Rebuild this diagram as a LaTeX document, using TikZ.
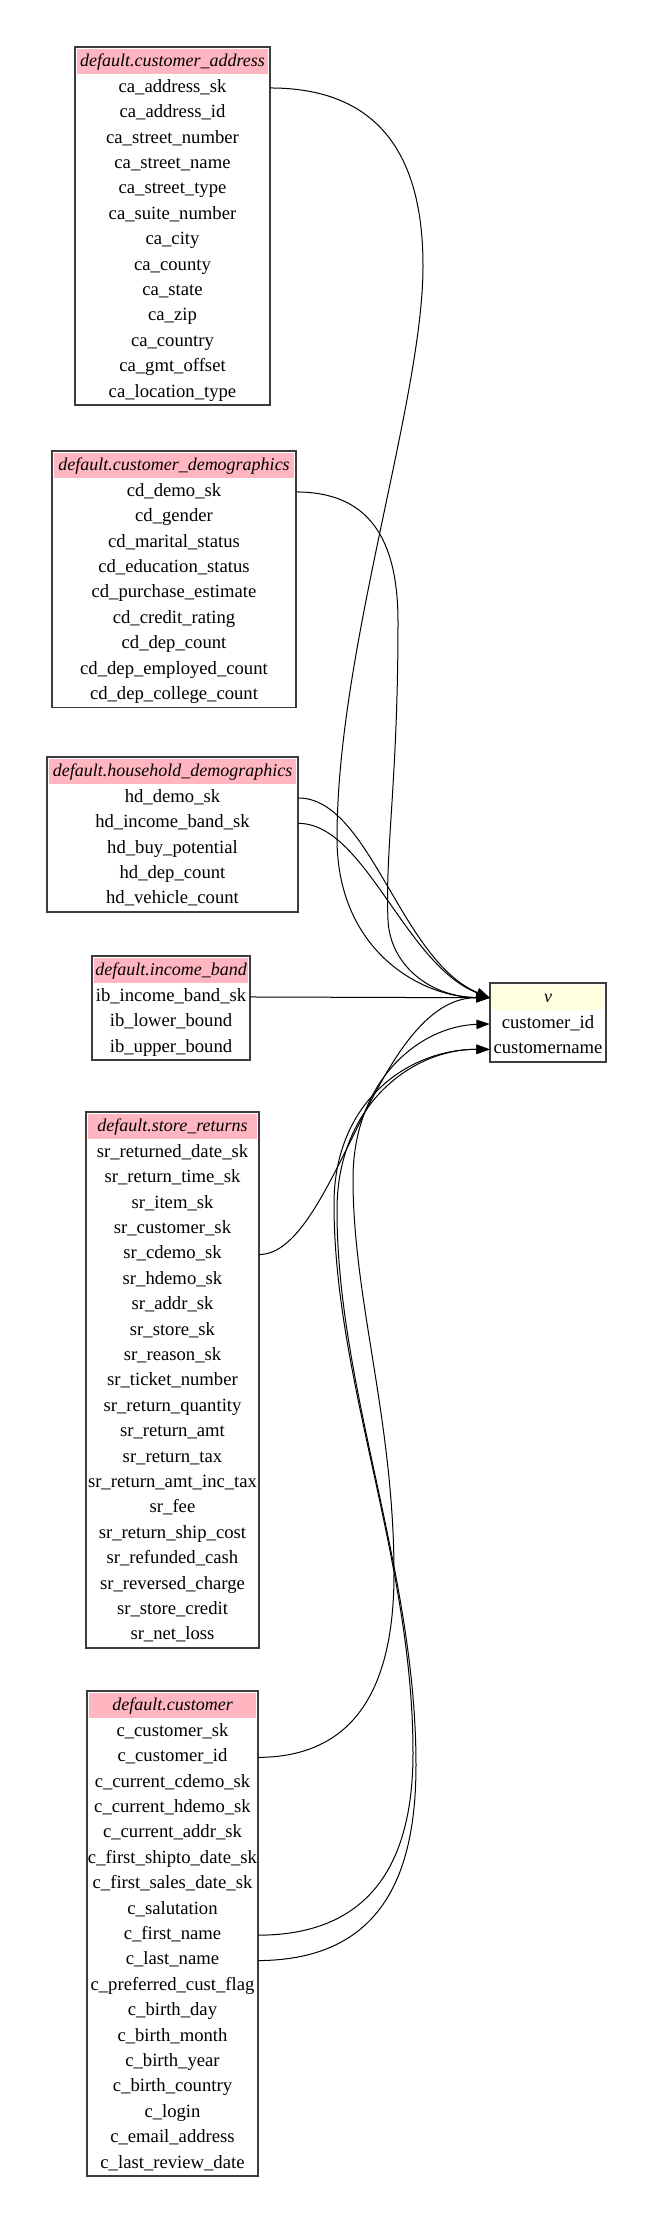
\documentclass[tikz,border=0pt]{standalone}
\usepackage{fontspec}
\setmainfont{Liberation Serif}
\usepackage{tikz}
\usetikzlibrary{arrows.meta}
\definecolor{headpink}{HTML}{FFB6C1}
\definecolor{headyellow}{HTML}{FFFFE0}
\definecolor{framegray}{HTML}{3C3C3C}

\tikzset{
	headcell/.style={font=\fontsize{13.5}{16}\selectfont\itshape, anchor=north, inner sep=0pt,
		minimum height=18.75pt, text height=9.5pt, text depth=3pt, fill=headpink},
	bodycell/.style={font=\fontsize{14}{16}\selectfont, anchor=north, inner sep=0pt,
		minimum height=19.05pt, text height=9.5pt, text depth=3pt},
	tableframe/.style={draw=framegray, line width=1.1pt},
	link/.style={draw=black, line width=0.75pt, -{Triangle[length=10pt, width=7pt]}},
}

\begin{document}
\begin{tikzpicture}[x=0.75pt, y=-0.75pt]
	\useasboundingbox (0, 0) rectangle (653, 2227);
	% customer_address
	\begin{scope}[shift={(75, 47)}]
		\pgfmathsetmacro\w{195}
		\pgfmathsetmacro\n{13}
		\node[headcell, minimum width=(\w - 4) * 0.75pt] (ca) at (\w / 2, 2) {default.customer\_address};
		\foreach \f [count=\i] in {ca\_address\_sk, ca\_address\_id, ca\_street\_number, ca\_street\_name,
			ca\_street\_type, ca\_suite\_number, ca\_city, ca\_county, ca\_state, ca\_zip, ca\_country,
			ca\_gmt\_offset, ca\_location\_type}{
			\node[bodycell, minimum width=\w * 0.75pt] (ca\i) at (\w / 2, 28 + 25.4 * \i - 25.4) {\f};
		}
		\draw[tableframe] (0, 0) rectangle (\w, 28 + 25.4 * \n);
	\end{scope}
	% customer_demographics
	\begin{scope}[shift={(52, 451)}]
		\pgfmathsetmacro\w{244}
		\pgfmathsetmacro\n{9}
		\node[headcell, minimum width=(\w - 4) * 0.75pt] (cd) at (\w / 2, 2) {default.customer\_demographics};
		\foreach \f [count=\i] in {cd\_demo\_sk, cd\_gender, cd\_marital\_status, cd\_education\_status,
			cd\_purchase\_estimate, cd\_credit\_rating, cd\_dep\_count, cd\_dep\_employed\_count,
			cd\_dep\_college\_count}{
			\node[bodycell, minimum width=\w * 0.75pt] (cd\i) at (\w / 2, 28 + 25.4 * \i - 25.4) {\f};
		}
		\draw[tableframe] (0, 0) rectangle (\w, 28 + 25.4 * \n);
	\end{scope}
	% household_demographics
	\begin{scope}[shift={(47, 757)}]
		\pgfmathsetmacro\w{251}
		\pgfmathsetmacro\n{5}
		\node[headcell, minimum width=(\w - 4) * 0.75pt] (hd) at (\w / 2, 2) {default.household\_demographics};
		\foreach \f [count=\i] in {hd\_demo\_sk, hd\_income\_band\_sk, hd\_buy\_potential, hd\_dep\_count,
			hd\_vehicle\_count}{
			\node[bodycell, minimum width=\w * 0.75pt] (hd\i) at (\w / 2, 28 + 25.4 * \i - 25.4) {\f};
		}
		\draw[tableframe] (0, 0) rectangle (\w, 28 + 25.4 * \n);
	\end{scope}
	% income_band
	\begin{scope}[shift={(92, 956)}]
		\pgfmathsetmacro\w{158}
		\pgfmathsetmacro\n{3}
		\node[headcell, minimum width=(\w - 4) * 0.75pt] (ib) at (\w / 2, 2) {default.income\_band};
		\foreach \f [count=\i] in {ib\_income\_band\_sk, ib\_lower\_bound, ib\_upper\_bound}{
			\node[bodycell, minimum width=\w * 0.75pt] (ib\i) at (\w / 2, 28 + 25.4 * \i - 25.4) {\f};
		}
		\draw[tableframe] (0, 0) rectangle (\w, 28 + 25.4 * \n);
	\end{scope}
	% store_returns
	\begin{scope}[shift={(86, 1112)}]
		\pgfmathsetmacro\w{173}
		\pgfmathsetmacro\n{20}
		\node[headcell, minimum width=(\w - 4) * 0.75pt] (sr) at (\w / 2, 2) {default.store\_returns};
		\foreach \f [count=\i] in {sr\_returned\_date\_sk, sr\_return\_time\_sk, sr\_item\_sk,
			sr\_customer\_sk, sr\_cdemo\_sk, sr\_hdemo\_sk, sr\_addr\_sk, sr\_store\_sk, sr\_reason\_sk,
			sr\_ticket\_number, sr\_return\_quantity, sr\_return\_amt, sr\_return\_tax,
			sr\_return\_amt\_inc\_tax, sr\_fee, sr\_return\_ship\_cost, sr\_refunded\_cash,
			sr\_reversed\_charge, sr\_store\_credit, sr\_net\_loss}{
			\node[bodycell, minimum width=\w * 0.75pt] (sr\i) at (\w / 2, 28 + 25.4 * \i - 25.4) {\f};
		}
		\draw[tableframe] (0, 0) rectangle (\w, 28 + 25.4 * \n);
	\end{scope}
	% customer
	\begin{scope}[shift={(87, 1691)}]
		\pgfmathsetmacro\w{171}
		\pgfmathsetmacro\n{18}
		\node[headcell, minimum width=(\w - 4) * 0.75pt] (cu) at (\w / 2, 2) {default.customer};
		\foreach \f [count=\i] in {c\_customer\_sk, c\_customer\_id, c\_current\_cdemo\_sk,
			c\_current\_hdemo\_sk, c\_current\_addr\_sk, c\_first\_shipto\_date\_sk,
			c\_first\_sales\_date\_sk, c\_salutation, c\_first\_name, c\_last\_name,
			c\_preferred\_cust\_flag, c\_birth\_day, c\_birth\_month, c\_birth\_year,
			c\_birth\_country, c\_login, c\_email\_address, c\_last\_review\_date}{
			\node[bodycell, minimum width=\w * 0.75pt] (cu\i) at (\w / 2, 28 + 25.4 * \i - 25.4) {\f};
		}
		\draw[tableframe] (0, 0) rectangle (\w, 28 + 25.4 * \n);
	\end{scope}
	% view v
	\begin{scope}[shift={(490, 983)}]
		\pgfmathsetmacro\w{116}
		\pgfmathsetmacro\n{2}
		\node[headcell, fill=headyellow, minimum width=(\w - 4) * 0.75pt] (v) at (\w / 2, 2) {v};
		\foreach \f [count=\i] in {customer\_id, customername}{
			\node[bodycell, minimum width=\w * 0.75pt] (v\i) at (\w / 2, 28 + 25.4 * \i - 25.4) {\f};
		}
		\draw[tableframe] (0, 0) rectangle (\w, 28 + 25.4 * \n);
	\end{scope}
	% links into the header of v
	\draw[link] (ca1.east) .. controls (390, 88) and (423, 170) .. (423, 266)
		.. controls (423, 400) and (337, 650) .. (337, 838)
		.. controls (337, 950) and (420, 997) .. (v1.west |- v.west);
	\draw[link] (cd1.east) .. controls (370, 492) and (398, 540) .. (398, 622)
		.. controls (398, 780) and (385, 850) .. (388, 920)
		.. controls (390, 965) and (430, 997) .. (v1.west |- v.west);
	\draw[link] (hd1.east) .. controls (370, 798) and (400, 960) .. (v1.west |- v.west);
	\draw[link] (hd2.east) .. controls (365, 823) and (405, 965) .. (v1.west |- v.west);
	\draw[link] (ib1.east) -- (v1.west |- v.west);
	\draw[link] (sr5.east) .. controls (335, 1254) and (375, 997) .. (v1.west |- v.west);
	% links into the columns of v
	\draw[link] (cu2.east) .. controls (360, 1757) and (394, 1680) .. (394, 1574)
		.. controls (394, 1420) and (353, 1300) .. (353, 1179)
		.. controls (353, 1080) and (420, 1026) .. (v1.west);
	\draw[link] (cu9.east) .. controls (380, 1935) and (413, 1850) .. (413, 1753)
		.. controls (413, 1560) and (334, 1380) .. (334, 1204)
		.. controls (334, 1100) and (410, 1049) .. (v2.west);
	\draw[link] (cu10.east) .. controls (385, 1960) and (416, 1870) .. (416, 1765)
		.. controls (416, 1570) and (337, 1390) .. (337, 1210)
		.. controls (337, 1105) and (412, 1049) .. (v2.west);
\end{tikzpicture}
\end{document}
